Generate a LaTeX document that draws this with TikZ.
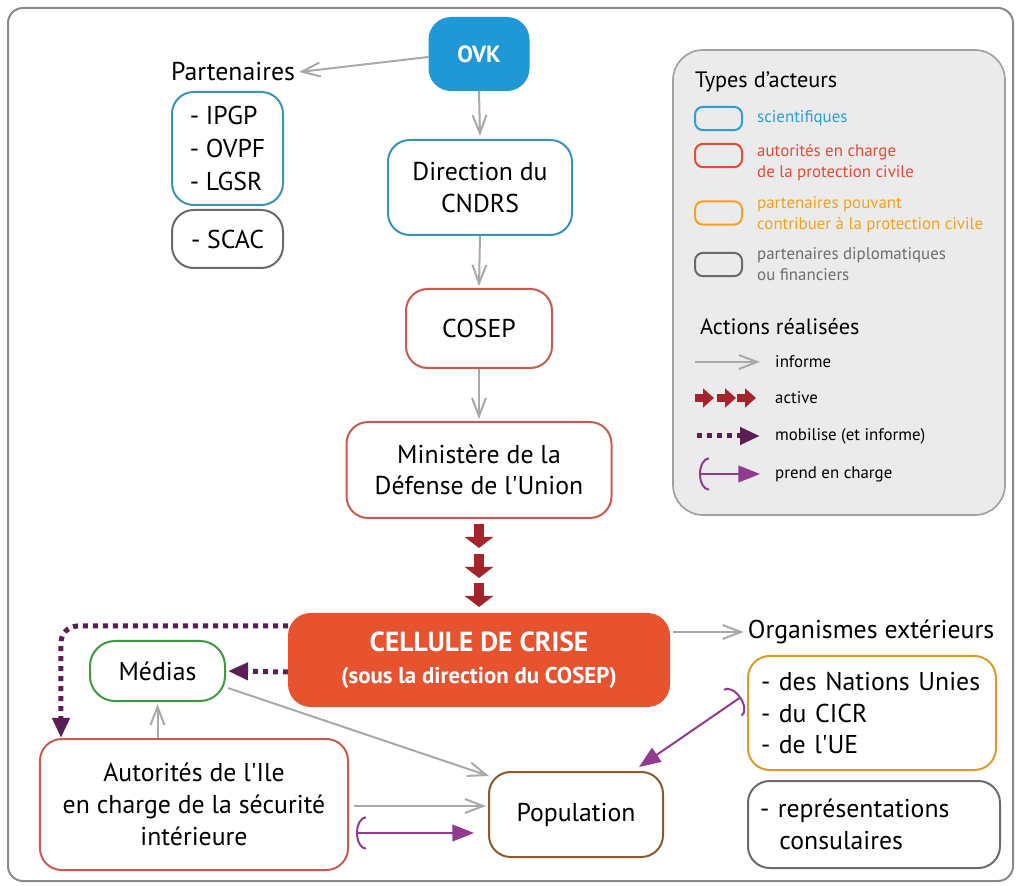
\documentclass[tikz,border=0pt]{standalone}
\usepackage{fontspec}
\setmainfont{PT Sans}
\usetikzlibrary{arrows.meta,calc,positioning}
\definecolor{ovkblue}{HTML}{1F98D5}
\definecolor{sciblue}{HTML}{3A93BC}
\definecolor{civred}{HTML}{C85A4E}
\definecolor{crisered}{HTML}{E8532F}
\definecolor{aidorange}{HTML}{DB9B2C}
\definecolor{diplgray}{HTML}{6A6A6A}
\definecolor{mediagreen}{HTML}{3F9A3F}
\definecolor{popbrown}{HTML}{8A5A2C}
\definecolor{informgray}{HTML}{A9A9A9}
\definecolor{activered}{HTML}{A3242A}
\definecolor{mobilpurple}{HTML}{5B1D55}
\definecolor{chargepurple}{HTML}{923A8F}
\definecolor{framegray}{HTML}{8A8A8A}
\definecolor{legfill}{HTML}{EBEBEB}
\definecolor{legline}{HTML}{A0A0A0}
\definecolor{legblue}{HTML}{2A9FD8}
\definecolor{legred}{HTML}{E54B35}
\definecolor{legorange}{HTML}{F4A11C}
\definecolor{txtgray}{HTML}{6D6D6D}

\begin{document}
\begin{tikzpicture}[x=0.3mm,y=-0.3mm,font=\fontsize{22}{27}\selectfont]
    \tikzset{
      box/.style={draw, rounded corners=6.5mm, line width=0.6mm, fill=white, inner sep=2pt, align=center},
      sci/.style={box, draw=sciblue},
      civ/.style={box, draw=civred},
      aid/.style={box, draw=aidorange},
      dipl/.style={box, draw=diplgray},
      inform/.style={draw=informgray, line width=0.6mm, -{Straight Barb[length=5.5mm,width=4.2mm]}},
      activate/.style={draw=activered, line width=3mm, -{Triangle[length=3.3mm,width=8.4mm]}},
      activesmall/.style={draw=activered, line width=2.4mm, -{Triangle[length=3.3mm,width=5.6mm]}},
      mobil/.style={draw=mobilpurple, line width=1.5mm, dash pattern=on 1.5mm off 1.5mm, -{Triangle[length=6mm,width=5mm]}},
      takecharge/.style={draw=chargepurple, line width=0.6mm, {Arc Barb[length=3mm,width=10mm]}-{Triangle[length=6.5mm,width=5mm]}},
      legtext/.style={anchor=west, inner sep=0pt, align=left, font=\fontsize{14.4}{18}\selectfont},
      legtitle/.style={anchor=west, inner sep=0pt, font=\fontsize{19}{22}\selectfont},
      swatch/.style={draw, rounded corners=2.4mm, line width=0.6mm, minimum width=14.1mm, minimum height=7mm, inner sep=0pt}
    }
    \useasboundingbox (0,0) rectangle (1019,886);
    \draw[framegray, line width=0.6mm, rounded corners=4.5mm] (8,8) rectangle (1013,881);
    % legend
    \node[draw=legline, fill=legfill, line width=0.5mm, rounded corners=9mm, minimum width=99.6mm, minimum height=139.5mm] (legend) at (839,282.5) {};
    \node[legtitle] (types) at (695,82) {Types d’acteurs};
    \node[swatch, draw=legblue] (swsci) at (718.5,118.5) {};
    \node[legtext, text=legblue] (txsci) at (757,118) {scientifiques};
    \node[swatch, draw=legred] (swciv) at (718.5,155.5) {};
    \node[legtext, text=legred] (txciv) at (757,162.5) {autorités en charge\\de la protection civile};
    \node[swatch, draw=legorange] (swaid) at (718.5,213) {};
    \node[legtext, text=legorange] (txaid) at (757,214.5) {partenaires pouvant\\contribuer à la protection civile};
    \node[swatch, draw=diplgray] (swdipl) at (718.5,264.5) {};
    \node[legtext, text=txtgray] (txdipl) at (757,264) {partenaires diplomatiques\\ou financiers};
    \node[legtitle] (actions) at (700,327) {Actions réalisées};
    \draw[inform] (695,362) -- (760,362);
    \node[legtext] (txinform) at (775,362) {informe};
    \foreach \x in {695,717,737}
      \draw[activesmall] (\x,398) -- ++(19,0);
    \node[legtext] (txactive) at (775,398) {active};
    \draw[mobil] (697,436) -- (760,436);
    \node[legtext] (txmobil) at (775,436) {mobilise (et informe)};
    \draw[takecharge] (699,474) -- (760,474);
    \node[legtext] (txcharge) at (775,474) {prend en charge};
    % actors
    \node[box, draw=ovkblue, fill=ovkblue, text=white, font=\bfseries\fontsize{20}{24}\selectfont, minimum width=29.7mm, minimum height=21.6mm] (ovk) at (479,54) {OVK};
    \node (partlabel) at (233,72) {Partenaires};
    \node[sci, align=left, font=\fontsize{22}{28}\selectfont, minimum width=33.3mm, minimum height=33.9mm] (partsci) at (227.5,148.5) {- IPGP\\- OVPF\\- LGSR};
    \node[dipl, minimum width=33.3mm, minimum height=17.4mm] (partdipl) at (227.5,239) {- SCAC};
    \node[sci, minimum width=55.2mm, minimum height=28.5mm] (cndrs) at (480,187.5) {Direction du\\CNDRS};
    \node[civ, minimum width=43.8mm, minimum height=23.7mm] (cosep) at (479,328.5) {COSEP};
    \node[civ, minimum width=79.5mm, minimum height=28.8mm] (mindef) at (479,470) {Ministère de la\\Défense de l\textquotesingle Union};
    \node[box, draw=crisered, fill=crisered, text=white, font=\bfseries\fontsize{23.5}{27.5}\selectfont, minimum width=114mm, minimum height=27.6mm] (crise) at (479,660) {CELLULE DE CRISE\\{\fontsize{19.5}{22}\selectfont(sous la direction du COSEP)}};
    \node[box, draw=mediagreen, rounded corners=7.5mm, minimum width=40.5mm, minimum height=18mm] (medias) at (157.5,671) {Médias};
    \node[civ, minimum width=92.4mm, minimum height=39.3mm] (autorites) at (194,804.5) {Autorités de l\textquotesingle Ile\\en charge de la sécurité\\intérieure};
    \node[box, draw=popbrown, minimum width=52.2mm, minimum height=25.5mm] (population) at (576,814.5) {Population};
    \node (orglabel) at (871,632) {Organismes extérieurs};
    \node[aid, align=left, text width=66.6mm, inner xsep=3.9mm, minimum height=34.2mm] (orgaid) at (872,713) {- des Nations Unies\\- du CICR\\- de l\textquotesingle UE};
    \node[dipl, align=left, text width=68.4mm, inner xsep=3.6mm, minimum height=26.1mm] (orgdipl) at (874,824.5) {- représentations\\\hspace*{0.75em}consulaires};
    % actions
    \draw[inform] ($(ovk.west)+(0,3)$) -- (partlabel.east);
    \draw[inform] (ovk.south) -- ($(cndrs.north)+(0,-3)$);
    \draw[inform] (cndrs.south) -- ($(cosep.north)+(0,-2)$);
    \draw[inform] (cosep.south) -- ($(mindef.north)+(0,-2)$);
    \foreach \s in {5,35,64}
      \draw[activate] ($(mindef.south)+(0,\s)$) -- ++(0,24);
    \draw[inform] ($(crise.east |- orglabel.west)+(3,0)$) -- (orglabel.west);
    \draw[mobil] ($(crise.west)+(0,12)$) -- ($(medias.east)+(2,0)$);
    \draw[mobil, rounded corners=5mm] ($(crise.north west)+(0,13)$) -| ($(autorites.north west)+(22,0)$);
    \draw[inform] ($(medias.east)+(2,17)$) -- ($(population.north west)+(1,5)$);
    \draw[inform] (medias.south |- autorites.north) -- ($(medias.south)+(0,2)$);
    \draw[inform] ($(autorites.east)+(5,1.5)$) -- ($(population.west)+(-2,-8.5)$);
    \draw[takecharge] ($(autorites.east)+(7,28.5)$) -- ($(population.west)+(-14,18.5)$);
    \draw[takecharge] ($(orgaid.west)+(-6,-16)$) -- ($(population.north east)+(-25,-4)$);
  \end{tikzpicture}
\end{document}
